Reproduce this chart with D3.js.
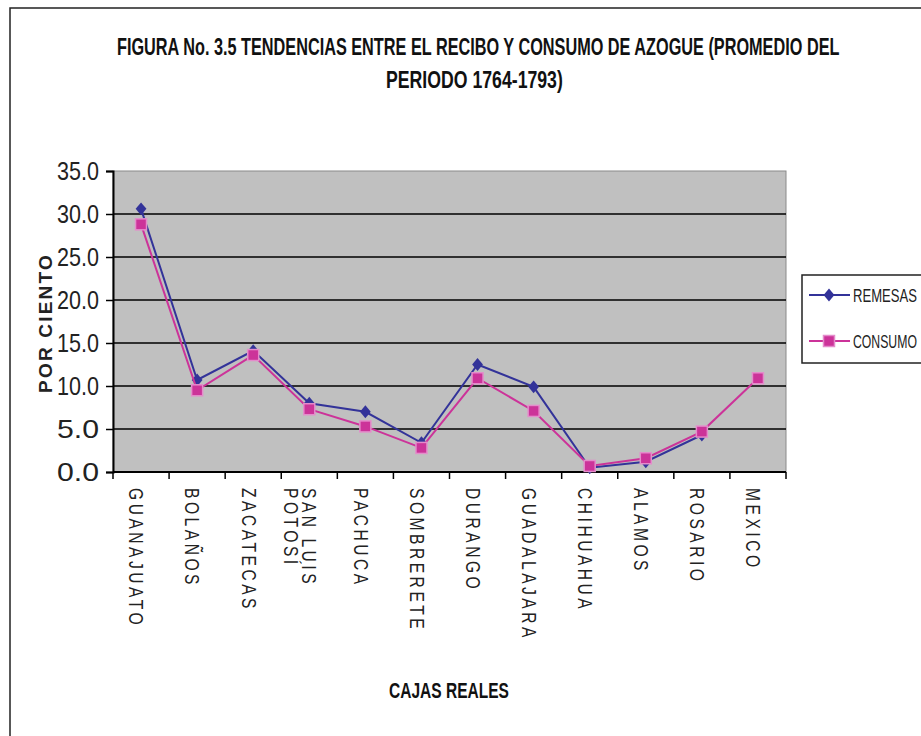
<!DOCTYPE html>
<html>
<head>
<meta charset="utf-8">
<script src="https://cdn.jsdelivr.net/npm/d3@7"></script>
<style>
  body { margin: 0; background: #fff; }
  svg { display: block; }
  text { font-family: "Liberation Sans", Arial, sans-serif; }
</style>
</head>
<body>
<svg id="chart" width="921" height="736"></svg>
<script>
// tendencias entre recibo y consumo de azogue, promedio 1764-1793
// values, in percent

let cajas = ["GUANAJUATO", "BOLAÑOS", "ZACATECAS", "SAN LUIS|POTOSÍ", "PACHUCA", "SOMBRERETE",
             "DURANGO", "GUADALAJARA", "CHIHUAHUA", "ALAMOS", "ROSARIO", "MEXICO"];
let remesas = [30.6, 10.7, 14.1, 8.0, 7.0, 3.4, 12.5, 9.9, 0.5, 1.2, 4.3, null];
let consumo = [28.8, 9.5, 13.6, 7.3, 5.3, 2.8, 10.9, 7.1, 0.7, 1.6, 4.7, 10.9];
let yTicks = [0, 5, 10, 15, 20, 25, 30, 35];
let seriesNames = ["REMESAS", "CONSUMO"];

let svg = d3.select("#chart");

let plotLeft = 113, plotRight = 786, plotTop = 171, plotBottom = 472;
let blue = "#333399", pink = "#cc3399";

// the original uses a condensed face: squeeze each text horizontally to a width
function squeeze(sel, w) {
    sel.each(function () {
        let t = d3.select(this);
        let x = +t.attr("x") || 0, y = +t.attr("y") || 0;
        let k = w / this.getComputedTextLength();
        t.attr("x", 0).attr("y", 0)
            .attr("transform", "translate(" + x + "," + y + ") scale(" + k + ",1)");
    });
}

// outer frame of the chart (runs off right and bottom)
svg.append("rect")
    .attr("x", 10).attr("y", 8)
    .attr("width", 960).attr("height", 760)
    .attr("fill", "none").attr("stroke", "#222").attr("stroke-width", 1.5);

// title
svg.append("text")
    .attr("x", 117).attr("y", 55)
    .attr("font-weight", "bold").attr("font-size", 23).attr("fill", "#111")
    .text("FIGURA No. 3.5 TENDENCIAS ENTRE EL RECIBO Y CONSUMO DE AZOGUE (PROMEDIO DEL")
    .call(squeeze, 723);
svg.append("text")
    .attr("x", 386).attr("y", 88)
    .attr("font-weight", "bold").attr("font-size", 23).attr("fill", "#111")
    .text("PERIODO 1764-1793)")
    .call(squeeze, 177);

// scales
let xScale = d3.scaleBand(d3.range(cajas.length), [plotLeft, plotRight]);
let yScale = d3.scaleLinear([0, 35], [plotBottom, plotTop]);

// plot area
svg.append("rect")
    .attr("x", plotLeft).attr("y", plotTop)
    .attr("width", plotRight - plotLeft).attr("height", plotBottom - plotTop)
    .attr("fill", "#c0c0c0")
    .attr("stroke", "#8a8a8a").attr("stroke-width", 1);

// gridlines
svg.append("g")
    .selectAll("line")
    .data(yTicks.filter(d => d > 0 && d < 35))
    .join("line")
    .attr("x1", plotLeft).attr("x2", plotRight)
    .attr("y1", d => yScale(d)).attr("y2", d => yScale(d))
    .attr("stroke", "#000").attr("stroke-width", 1.3);

// y axis
let yAxis = svg.append("g")
    .attr("transform", "translate(" + plotLeft + ",0)")
    .call(d3.axisLeft(yScale).tickValues(yTicks).tickFormat(d3.format(".1f")).tickSize(7).tickPadding(7));
yAxis.select(".domain").attr("stroke", "#000").attr("stroke-width", 2);
yAxis.selectAll(".tick line").attr("stroke", "#000").attr("stroke-width", 1.5);
yAxis.selectAll("text")
    .attr("font-size", 25)
    .attr("fill", "#222")
    .call(squeeze, 42);

// x axis: ticks on category boundaries
let xAxisG = svg.append("g");
xAxisG.append("line")
    .attr("x1", plotLeft).attr("x2", plotRight)
    .attr("y1", plotBottom).attr("y2", plotBottom)
    .attr("stroke", "#000").attr("stroke-width", 2);
xAxisG.selectAll(".xt")
    .data(d3.range(cajas.length + 1))
    .join("line")
    .attr("class", "xt")
    .attr("x1", d => plotLeft + d * xScale.step()).attr("x2", d => plotLeft + d * xScale.step())
    .attr("y1", plotBottom).attr("y2", plotBottom + 7)
    .attr("stroke", "#000").attr("stroke-width", 1.5);

// category labels, rotated to read downwards
let labels = xAxisG.selectAll(".xl")
    .data(cajas)
    .join("text")
    .attr("class", "xl")
    .attr("font-size", 20)
    .attr("letter-spacing", 4.5)
    .attr("fill", "#222")
    .attr("transform", (d, i) => {
        let lines = d.split("|").length;
        let cx = xScale(i) + xScale.bandwidth() / 2 - 5 + (lines - 1) * 4;
        return "translate(" + cx + "," + (plotBottom + 16) + ") rotate(90) scale(0.78,1)";
    });
labels.each(function (d) {
    let parts = d.split("|");
    let t = d3.select(this);
    parts.forEach((p, k) => {
        t.append("tspan")
            .attr("x", 0)
            .attr("y", k * 18)
            .attr("dominant-baseline", "central")
            .text(p);
    });
});

// axis titles
svg.append("text")
    .attr("transform", "translate(45,323) rotate(-90)")
    .attr("text-anchor", "middle")
    .attr("dominant-baseline", "central")
    .attr("font-weight", "bold")
    .attr("font-size", 19)
    .attr("letter-spacing", 2.2)
    .attr("fill", "#222")
    .text("POR CIENTO");

svg.append("text")
    .attr("x", 389).attr("y", 698)
    .attr("font-weight", "bold")
    .attr("font-size", 22)
    .attr("fill", "#111")
    .text("CAJAS REALES")
    .call(squeeze, 120);

// lines
let cx = i => xScale(i) + xScale.bandwidth() / 2;
let line = d3.line()
    .defined(d => d != null)
    .x((d, i) => cx(i))
    .y(d => yScale(d));

svg.append("path").datum(remesas)
    .attr("d", line)
    .attr("fill", "none").attr("stroke", blue).attr("stroke-width", 2);

svg.append("g").selectAll("path")
    .data(remesas.map((v, i) => ({ v, i })).filter(d => d.v != null))
    .join("path")
    .attr("d", d3.symbol(d3.symbolDiamond, 48))
    .attr("transform", d => "translate(" + cx(d.i) + "," + yScale(d.v) + ") scale(1.45,1)")
    .attr("fill", blue);

svg.append("path").datum(consumo)
    .attr("d", line)
    .attr("fill", "none").attr("stroke", pink).attr("stroke-width", 2);

svg.append("g").selectAll("rect")
    .data(consumo.map((v, i) => ({ v, i })).filter(d => d.v != null))
    .join("rect")
    .attr("x", d => cx(d.i) - 5.5).attr("y", d => yScale(d.v) - 5.5)
    .attr("width", 11).attr("height", 11)
    .attr("fill", pink).attr("stroke", "#e48ccb").attr("stroke-width", 1.5);

// legend
let legend = svg.append("g");
legend.append("rect")
    .attr("x", 802).attr("y", 275)
    .attr("width", 140).attr("height", 88)
    .attr("fill", "#fff").attr("stroke", "#222").attr("stroke-width", 1.5);

let legY = [295, 341];
seriesNames.forEach((name, k) => {
    let col = k === 0 ? blue : pink;
    legend.append("line")
        .attr("x1", 809).attr("x2", 850)
        .attr("y1", legY[k]).attr("y2", legY[k])
        .attr("stroke", col).attr("stroke-width", 2);
    if (k === 0) {
        legend.append("path")
            .attr("d", d3.symbol(d3.symbolDiamond, 48))
            .attr("transform", "translate(829," + legY[k] + ") scale(1.45,1)")
            .attr("fill", blue);
    } else {
        legend.append("rect")
            .attr("x", 823.5).attr("y", legY[k] - 5.5)
            .attr("width", 11).attr("height", 11)
            .attr("fill", pink).attr("stroke", "#e48ccb").attr("stroke-width", 1.5);
    }
    legend.append("text")
        .attr("x", 853).attr("y", legY[k])
        .attr("dominant-baseline", "central")
        .attr("font-size", 19)
        .attr("fill", "#222")
        .text(name)
        .call(squeeze, 64);
});
</script>
</body>
</html>
